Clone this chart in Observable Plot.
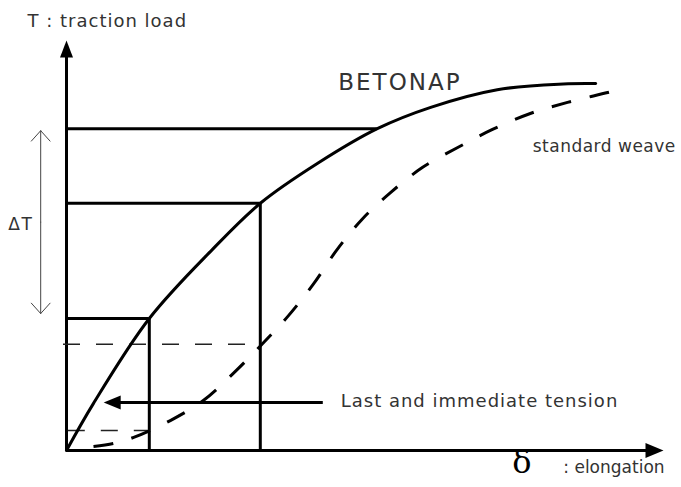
<!DOCTYPE html>
<html>
<head>
<meta charset="utf-8">
<script src="https://cdn.jsdelivr.net/npm/d3@7"></script>
<script src="https://cdn.jsdelivr.net/npm/@observablehq/plot@0.6"></script>
<style>
  html, body { margin: 0; padding: 0; background: #fff; overflow: hidden; }
</style>
</head>
<body>
<div id="chart"></div>
<script>
// ---- Data (δ: elongation, T: traction load, arbitrary units 0–100) ----
const betonapDelta = [0, 4.5, 13.8, 24.3, 32.3, 41.8, 51.8, 60.7, 71.8, 82.8, 88.2];
const betonapT     = [0, 11.5, 32.2, 49, 60.3, 70, 78.5, 83.7, 88, 89.4, 89.5];

const weaveDelta = [4.5, 7.8, 11.2, 17.3, 22.8, 27.8, 32.7, 37, 41.2, 45, 49.2, 54, 59.3, 65.2, 71, 77.3, 83.5, 90.2, 92.8];
const weaveT     = [1.0, 1.7, 3.2, 7.3, 12.2, 18.8, 26.1, 32.9, 40.7, 48.8, 56.3, 62.9, 69, 73.9, 78.3, 82.2, 84.9, 87.3, 88.3];

// construction lines on the BETONAP curve: load level and elongation reached
const levelT     = [78.5, 60.3, 32.2];
const levelDelta = [51.8, 32.3, 13.8];
const levelDrop  = [false, true, true];   // vertical drop to the δ axis

// dashed construction lines (standard weave)
const dashT      = [25.9, 4.9];
const dashStart  = [-0.5, 0.3];
const dashEnd    = [32.3, 14];

// ΔT range
const deltaTRange = [33.4, 78];
const deltaTX = -4.3;

// "Last and immediate tension" arrow
const tensionT = 11.7;
const tensionFrom = 42.8;
const tensionTip = 6.2;

// axis extents
const axisTopT = 100;
const axisEndDelta = 99.5;

// labels
const labelText  = ["T : traction load", "BETONAP", "standard weave", "Last and immediate tension", "\u0394T", ": elongation"];
const labelDelta = [-6.5, 45.3, 77.7, 45.7, -9.7, 82.8];
const labelT     = [103.2, 88, 72.7, 10.5, 53.9, -5.6];
const deltaSymbolPos = [74.3, -5.6];

// ---- tables ----
const betonap = betonapDelta.map((d, i) => ({d, t: betonapT[i]}));
const weave = weaveDelta.map((d, i) => ({d, t: weaveT[i]}));
const levels = levelT.map((t, i) => ({t, d: levelDelta[i], drop: levelDrop[i]}));
const dashes = dashT.map((t, i) => ({t, d1: dashStart[i], d2: dashEnd[i]}));
const labels = labelText.map((text, i) => ({text, d: labelDelta[i], t: labelT[i]}));

// filled arrow heads (tip at the data point)
const headUp = {draw(c) { c.moveTo(0, 0); c.lineTo(6.5, 17); c.lineTo(-6.5, 17); c.closePath(); }};
const headRight = {draw(c) { c.moveTo(0, 0); c.lineTo(-18, -7.5); c.lineTo(-18, 7.5); c.closePath(); }};
const headLeft = {draw(c) { c.moveTo(0, 0); c.lineTo(17, -7); c.lineTo(17, 7); c.closePath(); }};

const textColor = "#333";
const lab = (i, extra) => Plot.text([labels[i]], {
  x: "d", y: "t", text: "text", textAnchor: "start", lineAnchor: "bottom",
  fill: textColor, ...extra
});

const svg = Plot.plot({
  width: 681,
  height: 487,
  marginLeft: 66,
  marginRight: 15,
  marginTop: 40,
  marginBottom: 37,
  x: {domain: [0, 100], axis: null},
  y: {domain: [0, 100], axis: null},
  style: {fontFamily: "'DejaVu Sans', sans-serif", fontSize: "17px", background: "white", color: "black"},
  marks: [
    // axes
    Plot.ruleX([0], {x: d => d, y1: 0, y2: axisTopT - 3, stroke: "black", strokeWidth: 3}),
    Plot.ruleY([0], {y: d => d, x1: 0, x2: axisEndDelta - 2.5, stroke: "black", strokeWidth: 3}),
    Plot.dot([{d: 0, t: axisTopT}], {x: "d", y: "t", symbol: headUp, fill: "black", stroke: "none"}),
    Plot.dot([{d: axisEndDelta, t: 0}], {x: "d", y: "t", symbol: headRight, fill: "black", stroke: "none"}),

    // construction lines
    Plot.ruleY(levels, {y: "t", x1: 0, x2: "d", stroke: "black", strokeWidth: 3}),
    Plot.ruleX(levels.filter(l => l.drop), {x: "d", y1: 0, y2: "t", stroke: "black", strokeWidth: 3}),
    Plot.ruleY(dashes, {y: "t", x1: "d1", x2: "d2", stroke: "#222", strokeWidth: 1.5, strokeDasharray: "17,16"}),

    // curves
    Plot.line(weave, {x: "d", y: "t", curve: "catmull-rom", stroke: "black", strokeWidth: 3,
      strokeDasharray: "20,19", strokeLinecap: "butt"}),
    Plot.line(betonap, {x: "d", y: "t", curve: "catmull-rom", stroke: "black", strokeWidth: 3}),

    // ΔT double arrow
    Plot.arrow([
      {x1: deltaTX, y1: (deltaTRange[0] + deltaTRange[1]) / 2, x2: deltaTX, y2: deltaTRange[1]},
      {x1: deltaTX, y1: (deltaTRange[0] + deltaTRange[1]) / 2, x2: deltaTX, y2: deltaTRange[0]}
    ], {x1: "x1", y1: "y1", x2: "x2", y2: "y2", stroke: "#444", strokeWidth: 1, headLength: 21, headAngle: 84}),

    // tension arrow
    Plot.ruleY([tensionT], {y: d => d, x1: tensionTip + 2, x2: tensionFrom, stroke: "black", strokeWidth: 3}),
    Plot.dot([{d: tensionTip, t: tensionT}], {x: "d", y: "t", symbol: headLeft, fill: "black", stroke: "none"}),

    // labels
    lab(0, {fontSize: 18}),
    lab(1, {fontSize: 23}),
    lab(2, {fontSize: 17}),
    lab(3, {fontSize: 18}),
    lab(4, {fontSize: 17}),
    lab(5, {fontSize: 17}),
    Plot.text([{d: deltaSymbolPos[0], t: deltaSymbolPos[1]}], {x: "d", y: "t", text: () => "\u03B4",
      textAnchor: "start", lineAnchor: "bottom", fontFamily: "'DejaVu Serif', serif", fontSize: 32, fill: "black"})
  ]
});

const spacing = {"T : traction load": "1px", "BETONAP": "2px", "standard weave": "0.5px",
  "Last and immediate tension": "1px", "\u0394T": "1.5px", ": elongation": "0px"};
d3.select(svg).selectAll("text").each(function() {
  const s = spacing[this.textContent];
  if (s) this.style.letterSpacing = s;
});

document.getElementById("chart").appendChild(svg);
</script>
</body>
</html>
